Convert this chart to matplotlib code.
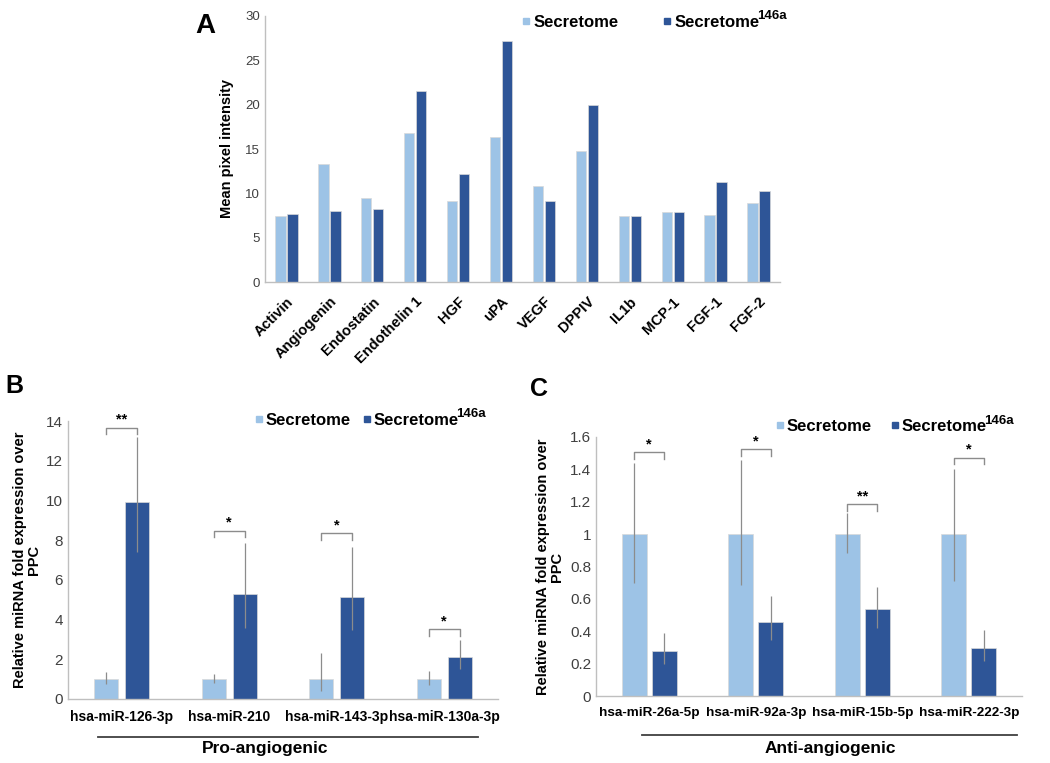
import matplotlib
matplotlib.use("Agg")
import matplotlib.pyplot as plt
import numpy as np
from matplotlib.lines import Line2D
from matplotlib.ticker import FuncFormatter

plt.rcParams['font.family'] = ['Liberation Sans', 'DejaVu Sans']

LIGHT = '#9dc3e6'
DARK = '#2e5597'
GRAY = '#bfbfbf'
EGRAY = '#8c8c8c'

# ---------------- Data ----------------
# Panel A
a_categories = ['Activin', 'Angiogenin', 'Endostatin', 'Endothelin 1', 'HGF', 'uPA',
                'VEGF', 'DPPIV', 'IL1b', 'MCP-1', 'FGF-1', 'FGF-2']
a_secretome = [7.5, 13.3, 9.5, 16.8, 9.1, 16.3, 10.8, 14.8, 7.45, 7.95, 7.55, 8.9]
a_secretome146a = [7.7, 8.05, 8.2, 21.5, 12.15, 27.2, 9.15, 20.0, 7.5, 7.85, 11.3, 10.3]
a_yticks = [0, 5, 10, 15, 20, 25, 30]

# Panel B
b_categories = ['hsa-miR-126-3p', 'hsa-miR-210', 'hsa-miR-143-3p', 'hsa-miR-130a-3p']
b_secretome = [1.0, 1.0, 1.0, 1.0]
b_secretome_err_lo = [0.23, 0.2, 0.61, 0.28]
b_secretome_err_hi = [0.36, 0.26, 1.31, 0.39]
b_secretome146a = [9.9, 5.3, 5.13, 2.11]
b_secretome146a_err_lo = [2.5, 1.7, 1.68, 0.58]
b_secretome146a_err_hi = [3.3, 2.56, 2.5, 0.84]
b_sig = ['**', '*', '*', '*']
b_sig_y = [13.67, 8.48, 8.35, 3.52]
b_yticks = [0, 2, 4, 6, 8, 10, 12, 14]

# Panel C
c_categories = ['hsa-miR-26a-5p', 'hsa-miR-92a-3p', 'hsa-miR-15b-5p', 'hsa-miR-222-3p']
c_secretome = [1.0, 1.0, 1.0, 1.0]
c_secretome_err_lo = [0.305, 0.315, 0.116, 0.29]
c_secretome_err_hi = [0.44, 0.46, 0.133, 0.40]
c_secretome146a = [0.278, 0.459, 0.535, 0.294]
c_secretome146a_err_lo = [0.078, 0.114, 0.115, 0.078]
c_secretome146a_err_hi = [0.109, 0.158, 0.14, 0.116]
c_sig = ['*', '*', '**', '*']
c_sig_y = [1.507, 1.524, 1.185, 1.473]
c_yticks = [0, 0.2, 0.4, 0.6, 0.8, 1.0, 1.2, 1.4, 1.6]

legend_labels = ['Secretome', 'Secretome']
legend_sup = '146a'

W, H = 1050, 763
fig = plt.figure(figsize=(W / 100, H / 100), dpi=100)


def fr(x0, y0, x1, y1):
    return [x0 / W, 1 - y1 / H, (x1 - x0) / W, (y1 - y0) / H]


def style_axes(ax):
    for s in ['top', 'right']:
        ax.spines[s].set_visible(False)
    for s in ['left', 'bottom']:
        ax.spines[s].set_color(GRAY)
        ax.spines[s].set_linewidth(1.0)
    ax.tick_params(length=0, colors='#404040')


def add_legend(ax, anchor, colspace, textpad):
    h1 = Line2D([], [], marker='s', color='none', markerfacecolor=LIGHT,
                markeredgecolor=LIGHT, markersize=5)
    h2 = Line2D([], [], marker='s', color='none', markerfacecolor=DARK,
                markeredgecolor=DARK, markersize=5)
    leg = ax.legend([h1, h2], legend_labels, loc='upper left', bbox_to_anchor=anchor,
                    ncol=2, frameon=False, prop={'size': 12, 'weight': 'bold'},
                    handletextpad=textpad, columnspacing=colspace, handlelength=0.6,
                    borderaxespad=0, borderpad=0)
    leg.set_zorder(5)
    t = leg.get_texts()[1]
    ann = ax.annotate(legend_sup, xy=(1.0, 0.5), xycoords=t, xytext=(-2.0, 0),
                      textcoords='offset points', fontsize=9.5, fontweight='bold',
                      ha='left', va='bottom', annotation_clip=False)
    ann.set_zorder(20)
    return leg


# ---------------- Panel A ----------------
axA = fig.add_axes(fr(265, 16, 780, 282))
x = np.arange(len(a_categories))
bw = 0.24
off = 0.14
axA.bar(x - off, a_secretome, bw, color=LIGHT, edgecolor='#d9d9d9', linewidth=0.5)
axA.bar(x + off, a_secretome146a, bw, color=DARK, edgecolor='#d9d9d9', linewidth=0.5)
axA.set_xlim(-0.5, len(a_categories) - 0.5)
axA.set_ylim(0, 30)
axA.set_yticks(a_yticks)
axA.set_xticks(x)
axA.set_xticklabels(a_categories, rotation=45, ha='right', rotation_mode='anchor',
                    fontsize=10.5, fontweight='bold', color='black')
axA.set_ylabel('Mean pixel intensity', fontsize=10.5, fontweight='bold', labelpad=8)
style_axes(axA)
axA.tick_params(axis='y', labelsize=9.5)
axA.tick_params(axis='x', colors='black', pad=9)
add_legend(axA, (0.497, 1.005), 2.6, 0.15)
fig.text(195 / W, 1 - 33 / H, 'A', fontsize=20, fontweight='bold')


def mirna_panel(ax, cats, s, slo, shi, d, dlo, dhi, sig, sigy, yticks, ymax, tick_drop,
                bw, off, xfs):
    x = np.arange(len(cats))
    ax.bar(x - off, s, bw, color=LIGHT, edgecolor='#d9d9d9', linewidth=0.5)
    ax.bar(x + off, d, bw, color=DARK, edgecolor='#d9d9d9', linewidth=0.5)
    ax.errorbar(x - off, s, yerr=[slo, shi], fmt='none', ecolor=EGRAY, elinewidth=0.9,
                capsize=0)
    ax.errorbar(x + off, d, yerr=[dlo, dhi], fmt='none', ecolor=EGRAY, elinewidth=0.9,
                capsize=0)
    for xi, st, yy in zip(x, sig, sigy):
        ax.plot([xi - off, xi - off, xi + off, xi + off],
                [yy - tick_drop, yy, yy, yy - tick_drop], color=EGRAY, lw=1.0)
        ax.text(xi, yy + tick_drop * 0.15, st, ha='center', va='bottom', fontsize=10.5,
                fontweight='bold')
    ax.set_xlim(-0.5, len(cats) - 0.5)
    ax.set_ylim(0, ymax)
    ax.set_yticks(yticks)
    ax.yaxis.set_major_formatter(FuncFormatter(lambda v, p: '%g' % v))
    ax.set_xticks(x)
    ax.set_xticklabels(cats, fontsize=xfs, fontweight='bold', color='black')
    style_axes(ax)
    ax.tick_params(axis='y', labelsize=11)
    ax.tick_params(axis='x', colors='black', pad=8)
    ax.set_ylabel('Relative miRNA fold expression over\nPPC', fontsize=10.5,
                  fontweight='bold', linespacing=1.0)


# ---------------- Panel B ----------------
axB = fig.add_axes(fr(68, 421, 498, 699))
mirna_panel(axB, b_categories, b_secretome, b_secretome_err_lo, b_secretome_err_hi,
            b_secretome146a, b_secretome146a_err_lo, b_secretome146a_err_hi,
            b_sig, b_sig_y, b_yticks, 14, 0.33, 0.224, 0.146, 10)
add_legend(axB, (0.432, 1.03), 0.7, 0.1)
fig.text(5 / W, 1 - 393 / H, 'B', fontsize=18, fontweight='bold')
fig.add_artist(Line2D([98 / W, 478 / W], [1 - 737 / H, 1 - 737 / H], color='#404040', lw=1.3))
fig.text(265 / W, 1 - 748 / H, 'Pro-angiogenic', ha='center', va='center', fontsize=12.5,
         fontweight='bold')

# ---------------- Panel C ----------------
axC = fig.add_axes(fr(596, 437, 1022, 696))
mirna_panel(axC, c_categories, c_secretome, c_secretome_err_lo, c_secretome_err_hi,
            c_secretome146a, c_secretome146a_err_lo, c_secretome146a_err_hi,
            c_sig, c_sig_y, c_yticks, 1.6, 0.04, 0.235, 0.143, 9.7)
add_legend(axC, (0.42, 1.069), 1.1, 0.1)
fig.text(530 / W, 1 - 396 / H, 'C', fontsize=18, fontweight='bold')
fig.add_artist(Line2D([642 / W, 1017 / W], [1 - 735 / H, 1 - 735 / H], color='#404040', lw=1.3))
fig.text(830 / W, 1 - 748 / H, 'Anti-angiogenic', ha='center', va='center', fontsize=12.5,
         fontweight='bold')

fig.savefig('out.png', dpi=100)
